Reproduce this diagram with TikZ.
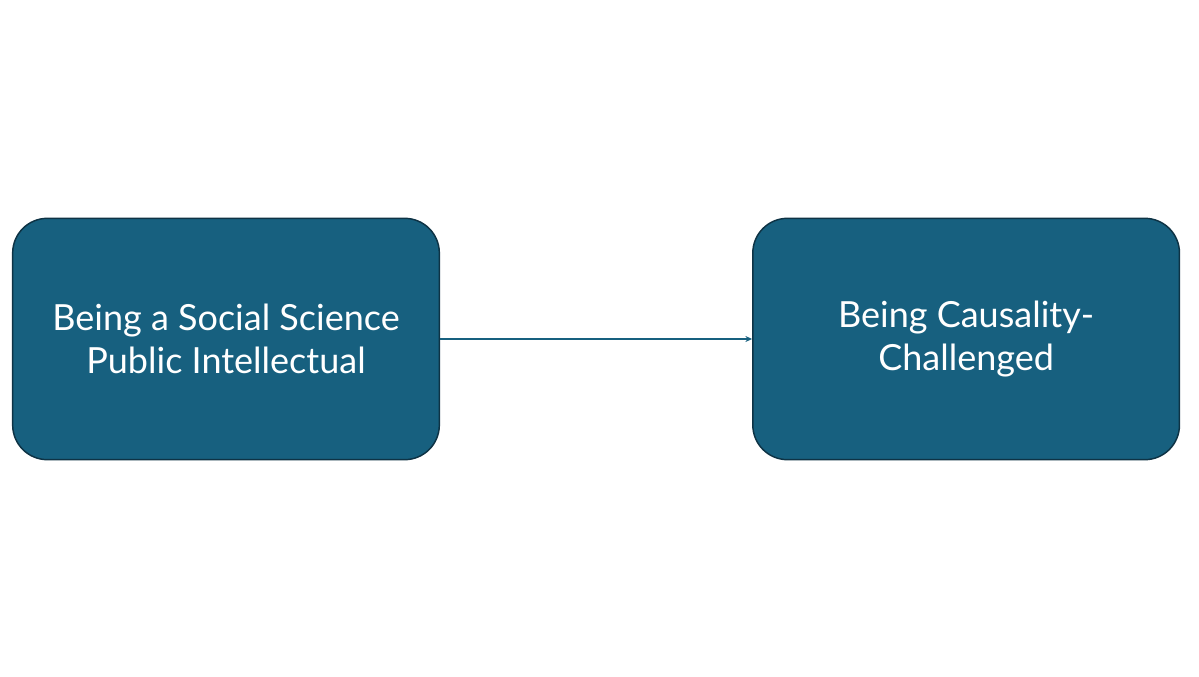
\documentclass[tikz,border=0pt]{standalone}
\usepackage{fontspec}
\setmainfont{Lato}
\usepackage{tikz}
\usetikzlibrary{arrows.meta,positioning}
\usepackage{xcolor}
\definecolor{boxfill}{HTML}{17607F}
\definecolor{boxline}{HTML}{0E3345}

\begin{document}
\begin{tikzpicture}[x=0.75pt,y=0.75pt,>=Stealth,
    causebox/.style={draw=boxline,line width=1.1pt,fill=boxfill,rounded corners=26pt,
      minimum width=320pt,minimum height=181pt,align=center,text=white,
      font=\fontsize{27}{32}\selectfont}]
    \useasboundingbox (0,0) rectangle (1199,676);
    \node[causebox] (intel) at (226,337) {Being a Social Science\\Public Intellectual};
    \node[causebox,right=234pt of intel] (causal) {Being Causality-\\Challenged};
    \draw[->,boxfill,line width=1.1pt,>={Stealth[length=5pt,width=4.5pt]}] (intel) -- (causal);
\end{tikzpicture}
\end{document}
